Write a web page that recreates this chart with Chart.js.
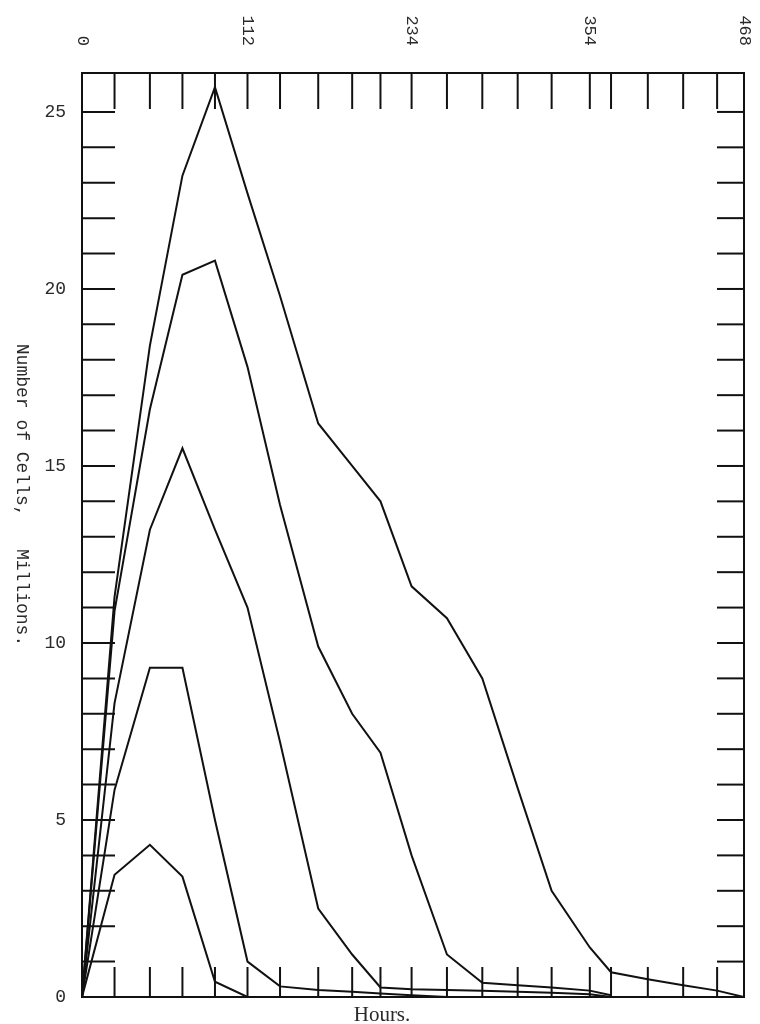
<!DOCTYPE html>
<html>
<head>
<meta charset="utf-8">
<script src="https://cdn.jsdelivr.net/npm/chart.js@4"></script>
<style>
  html, body { margin: 0; padding: 0; background: #fff; }
  #chart { display: block; }
</style>
</head>
<body>
<canvas id="chart" width="760" height="1024"></canvas>
<script>
// sampling times (hours) - one per tick mark along top and bottom edge
const hours = [0, 23, 48, 71, 94, 117, 140, 167, 191, 211, 233, 258, 283, 308, 332, 359, 374, 400, 425, 449, 468];
const topLabels = ['0', '', '', '', '', '112', '', '', '', '', '234', '', '', '', '', '354', '', '', '', '', '468'];
const yLabels = [0, 5, 10, 15, 20, 25];

// number of cells, millions (one curve per run)
const seriesA = [0, 11.3, 18.4, 23.2, 25.7, 22.7, 19.8, 16.2, 15.0, 14.0, 11.6, 10.7, 9.0, 5.9, 3.0, 1.4, 0.7, 0.5, 0.33, 0.18, 0];
const seriesB = [0, 10.9, 16.6, 20.4, 20.8, 17.8, 13.9, 9.9, 8.0, 6.9, 4.0, 1.2, 0.4, 0.33, 0.27, 0.18, 0.05];
const seriesC = [0, 8.3, 13.2, 15.5, 13.2, 11.0, 7.2, 2.5, 1.2, 0.27, 0.22, 0.2, 0.18, 0.15, 0.12, 0.08, 0];
const seriesD = [0, 5.85, 9.3, 9.3, 5.0, 1.0, 0.3, 0.2, 0.15, 0.1, 0.05, 0];
const seriesE = [0, 3.45, 4.3, 3.4, 0.43, 0];

const ink = '#111';
const typeFont = '"Liberation Mono", monospace';

function toPoints(values) {
    return values.map((v, i) => ({ x: hours[i], y: v }));
}

function stroke(ctx, x1, y1, x2, y2) {
    ctx.beginPath();
    ctx.moveTo(x1, y1);
    ctx.lineTo(x2, y2);
    ctx.stroke();
}

// box, inward tick marks and the rotated texts
const frameMarks = {
    id: 'frameMarks',
    afterDatasetsDraw(chart) {
        const { ctx, chartArea: a, scales } = chart;
        const xs = scales.x, ys = scales.y;
        ctx.save();
        ctx.strokeStyle = ink;
        ctx.lineWidth = 2;
        ctx.strokeRect(a.left, a.top, a.right - a.left, a.bottom - a.top);

        hours.forEach((h, i) => {
            if (i === 0 || i === hours.length - 1) return;
            const px = xs.getPixelForValue(h);
            stroke(ctx, px, a.top, px, a.top + 36);
            stroke(ctx, px, a.bottom, px, a.bottom - 30);
        });
        for (let v = 1; v <= 25; v++) {
            const py = ys.getPixelForValue(v);
            stroke(ctx, a.left, py, a.left + 33, py);
            stroke(ctx, a.right, py, a.right - 27, py);
        }

        ctx.fillStyle = '#2a2a2a';
        ctx.font = '17px ' + typeFont;
        hours.forEach((h, i) => {
            if (!topLabels[i]) return;
            ctx.save();
            ctx.translate(xs.getPixelForValue(h), 46);
            ctx.rotate(Math.PI / 2);
            ctx.textAlign = 'right';
            ctx.textBaseline = 'middle';
            ctx.fillText(topLabels[i], 0, 0);
            ctx.restore();
        });

        // y title, reads top to bottom
        ctx.save();
        ctx.translate(22, 495);
        ctx.rotate(Math.PI / 2);
        ctx.textAlign = 'center';
        ctx.textBaseline = 'middle';
        ctx.font = '18px ' + typeFont;
        ctx.fillText('Number of Cells,   Millions.', 0, 0);
        ctx.restore();

        ctx.font = '21px "Liberation Serif", serif';
        ctx.textAlign = 'center';
        ctx.textBaseline = 'middle';
        ctx.fillText('Hours.', 382, 1015);
        ctx.restore();
    }
};

const curve = (values) => ({
    data: toPoints(values),
    borderColor: ink,
    borderWidth: 2,
    pointRadius: 0,
    tension: 0,
    fill: false
});

const ctx = document.getElementById('chart');
new Chart(ctx, {
    type: 'line',
    data: {
        datasets: [seriesA, seriesB, seriesC, seriesD, seriesE].map(curve)
    },
    options: {
        responsive: false,
        animation: false,
        devicePixelRatio: 1,
        layout: { padding: { left: 0, right: 16, top: 73, bottom: 27 } },
        plugins: {
            legend: { display: false },
            tooltip: { enabled: false }
        },
        scales: {
            x: {
                type: 'linear',
                min: 0,
                max: 468,
                display: false
            },
            y: {
                min: 0,
                max: 26.1,
                afterBuildTicks: (s) => { s.ticks = yLabels.map(v => ({ value: v })); },
                afterFit: (s) => { s.width = 82; },
                grid: { display: false, drawTicks: false },
                border: { display: false },
                ticks: {
                    padding: 16,
                    color: '#2a2a2a',
                    font: { family: typeFont, size: 18 }
                }
            }
        }
    },
    plugins: [frameMarks]
});
</script>
</body>
</html>
